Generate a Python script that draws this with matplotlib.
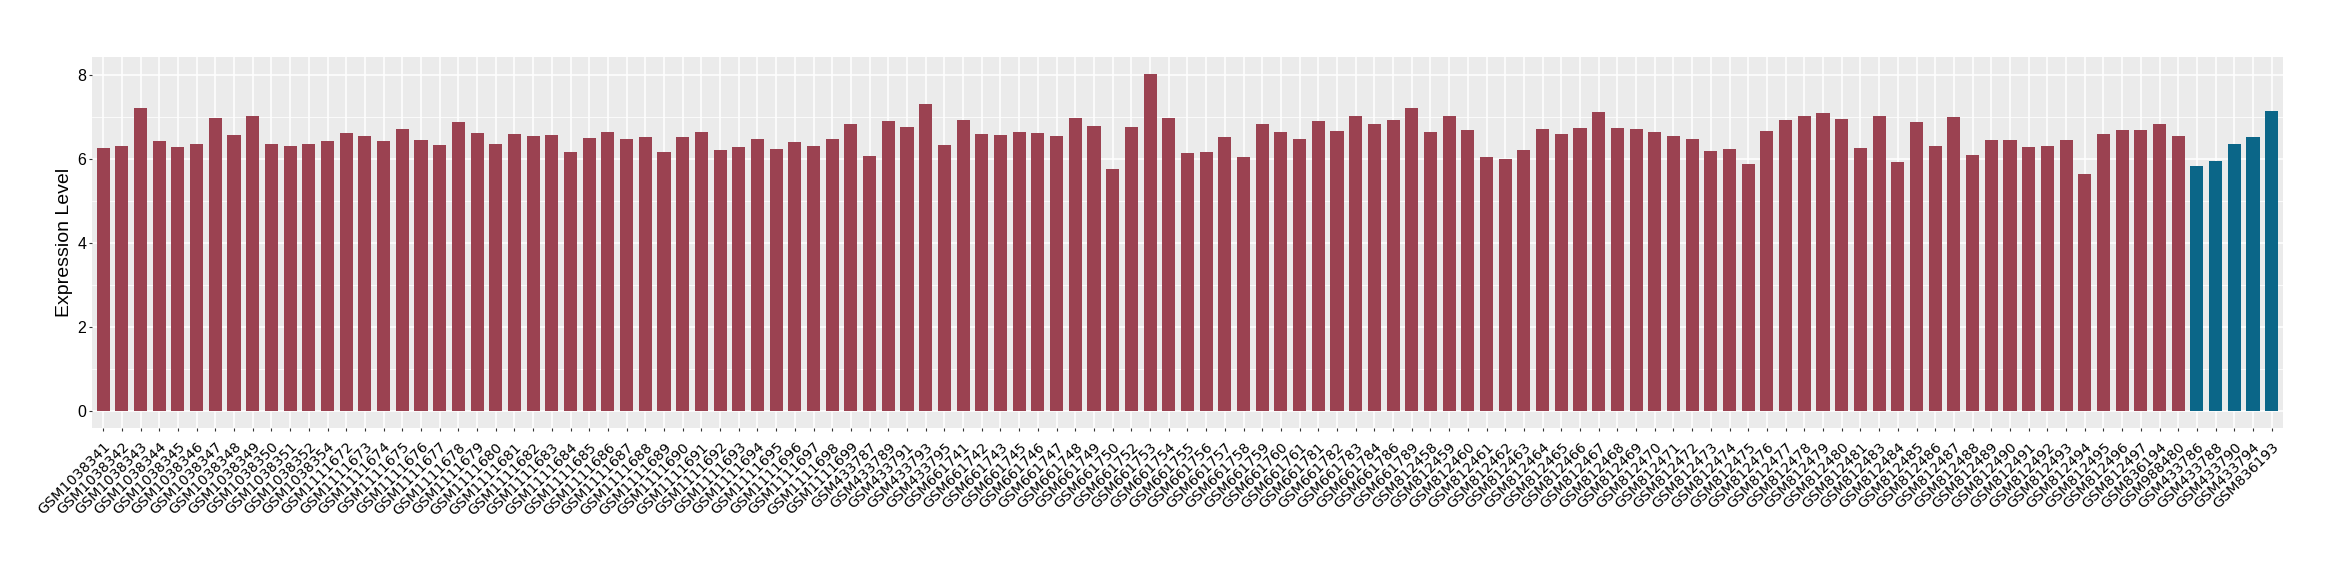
import matplotlib

matplotlib.use("Agg")
import matplotlib.pyplot as plt
from matplotlib.ticker import MultipleLocator

# Samples drawn in the first (red) colour
group1_samples = [
    "GSM1038341", "GSM1038342", "GSM1038343", "GSM1038344", "GSM1038345",
    "GSM1038346", "GSM1038347", "GSM1038348", "GSM1038349", "GSM1038350",
    "GSM1038351", "GSM1038352", "GSM1038354",
    "GSM1111672", "GSM1111673", "GSM1111674", "GSM1111675", "GSM1111676",
    "GSM1111677", "GSM1111678", "GSM1111679", "GSM1111680", "GSM1111681",
    "GSM1111682", "GSM1111683", "GSM1111684", "GSM1111685", "GSM1111686",
    "GSM1111687", "GSM1111688", "GSM1111689", "GSM1111690", "GSM1111691",
    "GSM1111692", "GSM1111693", "GSM1111694", "GSM1111695", "GSM1111696",
    "GSM1111697", "GSM1111698", "GSM1111699",
    "GSM433787", "GSM433789", "GSM433791", "GSM433793", "GSM433795",
    "GSM661741", "GSM661742", "GSM661743", "GSM661745", "GSM661746",
    "GSM661747", "GSM661748", "GSM661749", "GSM661750", "GSM661752",
    "GSM661753", "GSM661754", "GSM661755", "GSM661756", "GSM661757",
    "GSM661758", "GSM661759", "GSM661760", "GSM661761",
    "GSM661781", "GSM661782", "GSM661783", "GSM661784", "GSM661786",
    "GSM661789",
    "GSM812458", "GSM812459", "GSM812460", "GSM812461", "GSM812462",
    "GSM812463", "GSM812464", "GSM812465", "GSM812466", "GSM812467",
    "GSM812468", "GSM812469", "GSM812470", "GSM812471", "GSM812472",
    "GSM812473", "GSM812474", "GSM812475", "GSM812476", "GSM812477",
    "GSM812478", "GSM812479", "GSM812480", "GSM812481", "GSM812483",
    "GSM812484", "GSM812485", "GSM812486", "GSM812487", "GSM812488",
    "GSM812489", "GSM812490", "GSM812491", "GSM812492", "GSM812493",
    "GSM812494", "GSM812495", "GSM812496", "GSM812497",
    "GSM836194", "GSM988480",
]
group1_values = [
    6.26, 6.30, 7.20, 6.42, 6.28, 6.35, 6.96, 6.57, 7.03, 6.35,
    6.30, 6.35, 6.42,
    6.61, 6.54, 6.42, 6.71, 6.45, 6.33, 6.87, 6.61, 6.35, 6.59,
    6.54, 6.57, 6.17, 6.49, 6.64, 6.47, 6.52, 6.17, 6.52, 6.64,
    6.22, 6.28, 6.47, 6.24, 6.40, 6.30, 6.47, 6.83,
    6.07, 6.89, 6.76, 7.30, 6.33,
    6.92, 6.59, 6.57, 6.64, 6.61, 6.54, 6.96, 6.78, 5.77, 6.76,
    8.02, 6.96, 6.15, 6.17, 6.52, 6.05, 6.83, 6.64, 6.47,
    6.89, 6.66, 7.03, 6.83, 6.92, 7.20,
    6.64, 7.03, 6.69, 6.05, 6.00, 6.22, 6.71, 6.59, 6.73, 7.11,
    6.73, 6.71, 6.64, 6.54, 6.47, 6.19, 6.24, 5.88, 6.66, 6.92,
    7.03, 7.08, 6.94, 6.26, 7.01, 5.93, 6.87, 6.30, 6.99, 6.10,
    6.45, 6.45, 6.28, 6.30, 6.45, 5.65, 6.59, 6.69, 6.69,
    6.83, 6.54,
]

# Samples drawn in the second (blue) colour
group2_samples = ["GSM433786", "GSM433788", "GSM433790", "GSM433794", "GSM836193"]
group2_values = [5.84, 5.96, 6.35, 6.52, 7.13]

COLOR_1 = "#9B4251"
COLOR_2 = "#0B6688"

samples = group1_samples + group2_samples
n1 = len(group1_samples)
n_total = len(samples)
x1 = list(range(n1))
x2 = list(range(n1, n_total))

fig = plt.figure(figsize=(23.4, 5.8), dpi=100)
ax = fig.add_axes([0.0393, 0.262, 0.9363, 0.6397])

ax.set_facecolor("#EBEBEB")
ax.bar(x1, group1_values, width=0.7, color=COLOR_1, zorder=3)
ax.bar(x2, group2_values, width=0.7, color=COLOR_2, zorder=3)

# ggplot-style expansion of the axes
ymax = max(group1_values + group2_values)
ax.set_ylim(-0.05 * ymax, 1.05 * ymax)
ax.set_xlim(-0.6, n_total - 1 + 0.6)

ax.yaxis.set_major_locator(MultipleLocator(2))
ax.yaxis.set_minor_locator(MultipleLocator(1))
ax.grid(True, which="major", color="white", linewidth=1.1, zorder=0)
ax.grid(True, which="minor", axis="y", color="white", linewidth=0.55, zorder=0)
ax.set_axisbelow(True)

ax.set_xticks(range(n_total))
ax.set_xticklabels(samples, rotation=45, ha="right", va="top",
                   rotation_mode="anchor", fontsize=10.3,
                   family="DejaVu Sans", color="black")
ax.tick_params(axis="x", length=2.5, width=0.8, color="#333333", pad=6)
ax.tick_params(axis="y", which="major", length=2.5, width=0.8,
               color="#333333", labelsize=11.5, pad=1.5)
ax.tick_params(axis="y", which="minor", length=0)
for lbl in ax.get_yticklabels():
    lbl.set_family("Liberation Sans")

for spine in ax.spines.values():
    spine.set_visible(False)

ax.set_ylabel("Expression Level", fontsize=14, family="Liberation Sans", labelpad=3)

fig.savefig("out.png", dpi=100, facecolor="white")
